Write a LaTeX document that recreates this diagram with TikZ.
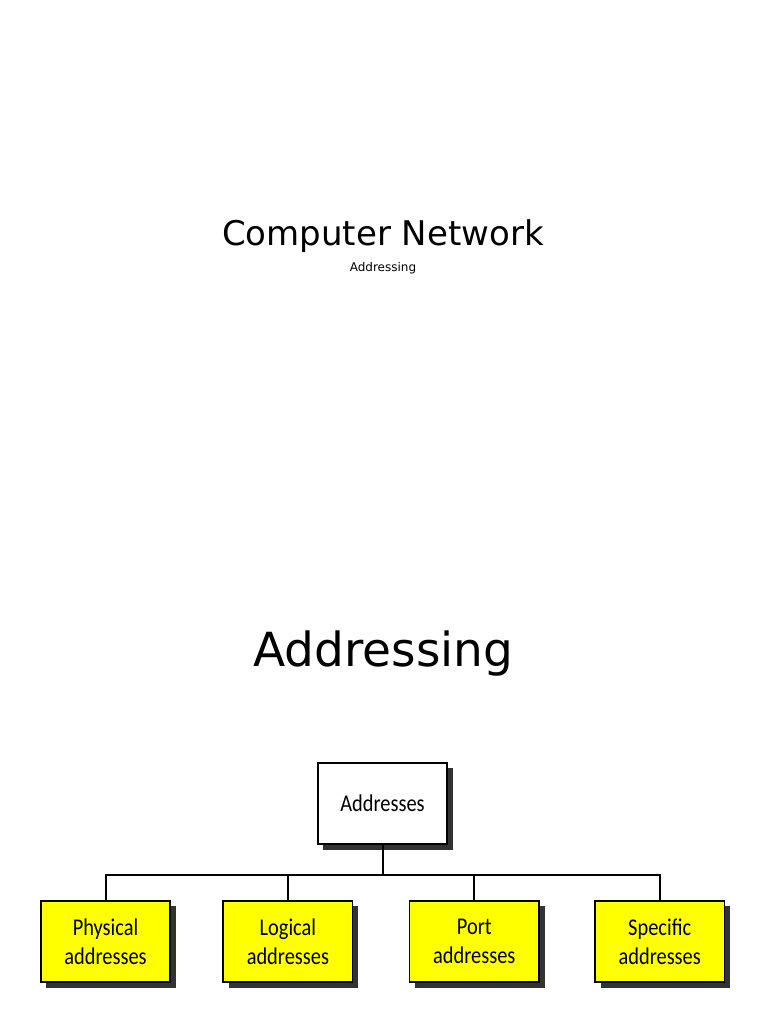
\documentclass[tikz,border=0pt]{standalone}
\usepackage{fontspec}
\setmainfont{DejaVu Sans}
\newfontfamily\boxfont[FakeStretch=0.85]{Carlito}
\usepackage{tikz}
\usetikzlibrary{positioning,shadows}
\definecolor{boxyellow}{HTML}{FFFF00}
\tikzstyle{addrbox}=[rectangle, draw=black, line width=1.6pt, fill=white,
        drop shadow={shadow xshift=5.5pt, shadow yshift=-5.5pt, fill=black!80, opacity=1},
        minimum width=129.4pt, minimum height=81.4pt, inner sep=0pt, align=center,
        font=\boxfont\fontsize{24}{29}\selectfont]
\tikzstyle{kindbox}=[addrbox, fill=boxyellow]
\tikzstyle{treeline}=[line width=2pt]

\begin{document}
\begin{tikzpicture}[x=1pt, y=1pt, node distance=51.4pt]

	\useasboundingbox[fill=white] (0,0) rectangle (768,1024);

	\node (title) [anchor=base, font=\fontsize{34}{40}\selectfont] at (383,778) {Computer Network};
	\node (subtitle) [anchor=base, font=\fontsize{12}{14}\selectfont] at (383,752) {Addressing};
	\node (heading) [anchor=base, font=\fontsize{47}{56}\selectfont] at (383.5,357) {Addressing};

	\node (addresses) [addrbox] at (382.5,220.5) {Addresses};

	\node (physical) [kindbox] at (105.5,82.5) {Physical\\addresses};
	\node (logical) [kindbox, right=of physical] {Logical\\addresses};
	\node (port) [kindbox, right=55.4pt of logical] {Port\\addresses};
	\node (specific) [kindbox, right=54.4pt of port] {Specific\\addresses};

\draw[treeline] (addresses.south) --++(0,-30) -| (physical.north);
\draw[treeline] (addresses.south) --++(0,-30) -| (logical.north);
\draw[treeline] (addresses.south) --++(0,-30) -| (port.north);
\draw[treeline] (addresses.south) --++(0,-30) -| (specific.north);

\end{tikzpicture}
\end{document}
